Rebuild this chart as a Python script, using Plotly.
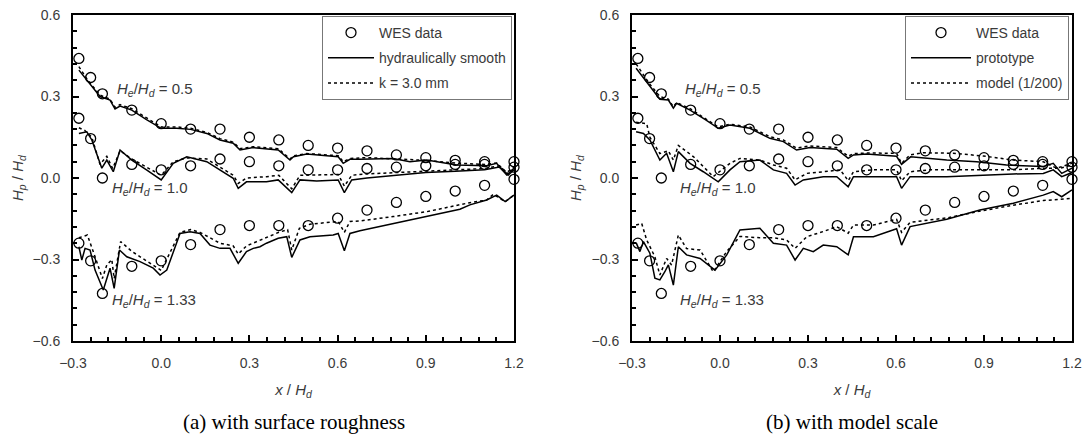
import plotly.graph_objects as go

# ---------------- data ----------------
wes_x = [-0.28, -0.24, -0.2, -0.1, 0.0, 0.1, 0.2, 0.3, 0.4, 0.5, 0.6, 0.7, 0.8, 0.9, 1.0, 1.1, 1.2]
wes_05 = [0.44, 0.37, 0.31, 0.25, 0.20, 0.18, 0.18, 0.15, 0.14, 0.12, 0.11, 0.10, 0.085, 0.075, 0.065, 0.06, 0.06]
wes_10 = [0.22, 0.145, 0.0, 0.05, 0.03, 0.045, 0.07, 0.06, 0.045, 0.03, 0.03, 0.035, 0.04, 0.045, 0.05, 0.05, 0.04]
wes_133 = [-0.24, -0.305, -0.425, -0.325, -0.305, -0.245, -0.19, -0.175, -0.175, -0.175, -0.148, -0.118,
           -0.09, -0.068, -0.048, -0.027, -0.005]

# (a) hydraulically smooth
a_s05_x = [-0.28, -0.24, -0.208, -0.174, -0.157, -0.14, -0.1, -0.05, 0.0, 0.053, 0.1, 0.155, 0.2, 0.245, 0.268,
           0.313, 0.398, 0.438, 0.45, 0.495, 0.602, 0.619, 0.642, 0.676, 0.789, 0.846, 0.903, 1.005, 1.107, 1.141,
           1.175, 1.2]
a_s05_y = [0.397, 0.345, 0.30, 0.287, 0.254, 0.265, 0.25, 0.215, 0.183, 0.183, 0.179, 0.164, 0.14, 0.128, 0.103,
           0.112, 0.103, 0.066, 0.078, 0.088, 0.078, 0.054, 0.069, 0.069, 0.072, 0.06, 0.066, 0.048, 0.045, 0.054,
           0.011, 0.036]
# (a) k = 3.0 mm
a_r05_x = [-0.28, -0.25, -0.208, -0.174, -0.157, -0.14, -0.1, -0.05, 0.0, 0.053, 0.1, 0.155, 0.2, 0.245, 0.268,
           0.313, 0.398, 0.438, 0.45, 0.495, 0.602, 0.619, 0.642, 0.7, 0.8, 0.9, 1.0, 1.1, 1.141, 1.175, 1.2]
a_r05_y = [0.41, 0.36, 0.305, 0.29, 0.26, 0.27, 0.255, 0.22, 0.188, 0.188, 0.183, 0.168, 0.145, 0.132, 0.108,
           0.115, 0.108, 0.07, 0.082, 0.09, 0.082, 0.06, 0.072, 0.075, 0.07, 0.065, 0.055, 0.05, 0.055, 0.02, 0.04]

a_s10_x = [-0.28, -0.253, -0.236, -0.202, -0.185, -0.163, -0.14, -0.1, -0.05, 0.0, 0.041, 0.087, 0.155, 0.2,
           0.245, 0.262, 0.29, 0.358, 0.398, 0.444, 0.472, 0.529, 0.602, 0.623, 0.648, 0.7, 0.8, 0.9, 1.0, 1.1,
           1.15, 1.18, 1.2]
a_s10_y = [0.164, 0.17, 0.14, 0.036, 0.066, 0.023, 0.103, 0.066, 0.03, -0.007, 0.054, 0.078, 0.06, 0.03, -0.001,
           -0.038, -0.014, -0.014, -0.007, -0.054, -0.007, -0.011, -0.007, -0.054, -0.007, 0.0, 0.01, 0.02, 0.025,
           0.03, 0.04, 0.01, 0.03]
a_r10_x = [-0.28, -0.26, -0.236, -0.208, -0.185, -0.165, -0.14, -0.1, -0.05, 0.0, 0.041, 0.087, 0.155, 0.2, 0.245,
           0.262, 0.29, 0.358, 0.4, 0.444, 0.472, 0.602, 0.623, 0.648, 0.7, 0.8, 0.9, 1.0, 1.1, 1.15, 1.18, 1.2]
a_r10_y = [0.185, 0.175, 0.15, 0.05, 0.08, 0.035, 0.1, 0.07, 0.04, 0.01, 0.06, 0.074, 0.07, 0.04, 0.01, -0.02,
           0.0, 0.005, 0.01, -0.04, 0.01, 0.013, -0.03, 0.01, 0.015, 0.02, 0.025, 0.03, 0.035, 0.045, 0.015, 0.035]

a_s133_x = [-0.28, -0.27, -0.259, -0.242, -0.225, -0.208, -0.197, -0.174, -0.16, -0.142, -0.117, -0.072, -0.027,
            -0.004, 0.019, 0.064, 0.098, 0.132, 0.166, 0.2, 0.234, 0.262, 0.29, 0.313, 0.336, 0.358, 0.398, 0.427,
            0.444, 0.472, 0.506, 0.585, 0.602, 0.623, 0.642, 0.676, 0.767, 0.846, 0.948, 1.016, 1.05, 1.107, 1.141,
            1.17, 1.2]
a_s133_y = [-0.253, -0.302, -0.259, -0.265, -0.339, -0.388, -0.412, -0.332, -0.406, -0.265, -0.29, -0.308, -0.332,
            -0.357, -0.339, -0.204, -0.198, -0.204, -0.247, -0.259, -0.259, -0.314, -0.271, -0.259, -0.253, -0.24,
            -0.222, -0.216, -0.292, -0.228, -0.216, -0.21, -0.204, -0.268, -0.204, -0.194, -0.173, -0.157, -0.132,
            -0.115, -0.099, -0.081, -0.063, -0.087, -0.063]
a_r133_x = [-0.28, -0.251, -0.225, -0.2, -0.185, -0.168, -0.16, -0.138, -0.1, -0.027, 0.0, 0.064, 0.1, 0.132, 0.18,
            0.2, 0.245, 0.262, 0.29, 0.358, 0.4, 0.43, 0.444, 0.47, 0.506, 0.602, 0.623, 0.642, 0.676, 0.789, 0.903,
            1.04, 1.107, 1.13, 1.17, 1.2]
a_r133_y = [-0.22, -0.21, -0.29, -0.37, -0.32, -0.30, -0.37, -0.234, -0.27, -0.32, -0.34, -0.2, -0.19, -0.2, -0.23,
            -0.24, -0.25, -0.28, -0.25, -0.22, -0.2, -0.19, -0.265, -0.185, -0.17, -0.16, -0.2, -0.16, -0.158,
            -0.142, -0.124, -0.093, -0.081, -0.06, -0.087, -0.063]

# (b) prototype
b_p05_x = [-0.286, -0.239, -0.205, -0.176, -0.159, -0.148, -0.102, -0.05, -0.006, 0.034, 0.102, 0.17, 0.216,
           0.261, 0.307, 0.398, 0.437, 0.455, 0.5, 0.602, 0.619, 0.65, 0.773, 0.875, 0.977, 1.102, 1.136, 1.165, 1.2]
b_p05_y = [0.404, 0.336, 0.29, 0.287, 0.257, 0.275, 0.25, 0.215, 0.183, 0.195, 0.183, 0.146, 0.134, 0.103, 0.112,
           0.106, 0.072, 0.085, 0.088, 0.08, 0.05, 0.078, 0.066, 0.06, 0.048, 0.042, 0.054, 0.017, 0.036]
# (b) model (1/200)
b_m05_x = [-0.286, -0.239, -0.205, -0.176, -0.159, -0.148, -0.102, -0.05, -0.006, 0.034, 0.102, 0.17, 0.216,
           0.261, 0.307, 0.398, 0.437, 0.455, 0.5, 0.602, 0.619, 0.648, 0.693, 0.795, 0.898, 1.0, 1.102, 1.148, 1.2]
b_m05_y = [0.42, 0.345, 0.3, 0.29, 0.262, 0.278, 0.255, 0.22, 0.188, 0.198, 0.188, 0.152, 0.14, 0.11, 0.118,
           0.112, 0.08, 0.09, 0.092, 0.091, 0.054, 0.085, 0.093, 0.091, 0.081, 0.066, 0.06, 0.036, 0.054]

b_p10_x = [-0.286, -0.261, -0.239, -0.205, -0.182, -0.159, -0.142, -0.102, -0.057, -0.006, 0.034, 0.068, 0.136,
           0.182, 0.227, 0.256, 0.284, 0.352, 0.398, 0.437, 0.455, 0.523, 0.602, 0.619, 0.648, 0.773, 0.898, 1.0,
           1.102, 1.136, 1.165, 1.2]
b_p10_y = [0.17, 0.164, 0.14, 0.066, 0.091, 0.023, 0.097, 0.054, 0.023, -0.014, 0.03, 0.06, 0.066, 0.03, 0.017,
           -0.026, -0.007, 0.005, 0.005, -0.032, 0.005, 0.005, 0.005, -0.038, 0.005, 0.005, 0.011, 0.015, 0.017,
           0.03, 0.005, 0.02]
b_m10_x = [-0.286, -0.25, -0.239, -0.205, -0.176, -0.159, -0.142, -0.09, -0.023, 0.034, 0.068, 0.136, 0.182,
           0.227, 0.256, 0.296, 0.352, 0.41, 0.437, 0.455, 0.523, 0.602, 0.619, 0.648, 0.716, 0.886, 1.0, 1.102,
           1.16, 1.2]
b_m10_y = [0.205, 0.2, 0.15, 0.09, 0.1, 0.066, 0.12, 0.078, 0.005, 0.054, 0.072, 0.066, 0.048, 0.036, -0.007,
           0.017, 0.023, 0.03, -0.01, 0.023, 0.03, 0.03, -0.01, 0.023, 0.03, 0.03, 0.03, 0.036, 0.036, 0.048]

b_p133_x = [-0.286, -0.273, -0.261, -0.239, -0.222, -0.205, -0.188, -0.176, -0.159, -0.142, -0.114, -0.068,
            -0.017, 0.023, 0.068, 0.136, 0.182, 0.227, 0.256, 0.284, 0.318, 0.352, 0.398, 0.437, 0.455, 0.523,
            0.602, 0.619, 0.648, 0.773, 0.886, 1.0, 1.102, 1.136, 1.165, 1.2]
b_p133_y = [-0.238, -0.271, -0.234, -0.277, -0.369, -0.375, -0.345, -0.32, -0.394, -0.253, -0.283, -0.296, -0.339,
            -0.283, -0.191, -0.185, -0.24, -0.247, -0.302, -0.259, -0.271, -0.247, -0.253, -0.283, -0.216, -0.216,
            -0.187, -0.247, -0.179, -0.152, -0.118, -0.093, -0.063, -0.05, -0.069, -0.044]
b_m133_x = [-0.286, -0.267, -0.25, -0.222, -0.205, -0.182, -0.165, -0.142, -0.114, -0.068, -0.023, 0.023, 0.068,
            0.136, 0.182, 0.227, 0.256, 0.296, 0.352, 0.398, 0.437, 0.455, 0.523, 0.602, 0.619, 0.648, 0.773,
            0.886, 1.0, 1.102, 1.2]
b_m133_y = [-0.173, -0.167, -0.228, -0.29, -0.357, -0.296, -0.32, -0.21, -0.26, -0.265, -0.345, -0.27, -0.215,
            -0.22, -0.22, -0.228, -0.259, -0.216, -0.197, -0.179, -0.203, -0.173, -0.173, -0.152, -0.2, -0.163,
            -0.147, -0.122, -0.1, -0.083, -0.075]

x_ticks = [-0.3, 0.0, 0.3, 0.6, 0.9, 1.2]
y_ticks = [-0.6, -0.3, 0.0, 0.3, 0.6]
captions = ["(a) with surface roughness", "(b) with model scale"]
legend_a = ["WES data", "hydraulically smooth", "k = 3.0 mm"]
legend_b = ["WES data", "prototype", "model (1/200)"]
ratio_labels = ["0.5", "1.0", "1.33"]

# ---------------- figure ----------------
W, H = 1083, 441
FONT = "Liberation Sans, Arial, sans-serif"
TXT = "#3a3a3a"

fig = go.Figure()

def add_panel(xa, ya, leg, names, s_sets, d_sets):
    marker = dict(symbol="circle-open", size=10, color="black", line=dict(width=1.3, color="black"))
    for i, wy in enumerate([wes_05, wes_10, wes_133]):
        fig.add_trace(go.Scatter(x=wes_x, y=wy, mode="markers", marker=marker, xaxis=xa, yaxis=ya,
                                 name=names[0], legend=leg, legendgroup=leg + "w", showlegend=(i == 0),
                                 cliponaxis=False))
    for i, (sx, sy) in enumerate(s_sets):
        fig.add_trace(go.Scatter(x=sx, y=sy, mode="lines", line=dict(color="black", width=1.5),
                                 xaxis=xa, yaxis=ya, name=names[1], legend=leg, legendgroup=leg + "s",
                                 showlegend=(i == 0)))
    for i, (dx, dy) in enumerate(d_sets):
        fig.add_trace(go.Scatter(x=dx, y=dy, mode="lines", line=dict(color="black", width=1.5, dash="dot"),
                                 xaxis=xa, yaxis=ya, name=names[2], legend=leg, legendgroup=leg + "d",
                                 showlegend=(i == 0)))

add_panel("x", "y", "legend", legend_a,
          [(a_s05_x, a_s05_y), (a_s10_x, a_s10_y), (a_s133_x, a_s133_y)],
          [(a_r05_x, a_r05_y), (a_r10_x, a_r10_y), (a_r133_x, a_r133_y)])
add_panel("x2", "y2", "legend2", legend_b,
          [(b_p05_x, b_p05_y), (b_p10_x, b_p10_y), (b_p133_x, b_p133_y)],
          [(b_m05_x, b_m05_y), (b_m10_x, b_m10_y), (b_m133_x, b_m133_y)])

ydom = [(H - 341) / H, (H - 15) / H]
xdom1 = [73 / W, 514 / W]
xdom2 = [632 / W, 1072 / W]

def xaxis(dom, anchor):
    return dict(domain=dom, anchor=anchor, range=[-0.3, 1.2], tickmode="array", tickvals=x_ticks,
                ticktext=[f"{v:.1f}".replace("-", "\u2212") for v in x_ticks], automargin=False,
                ticks="inside", ticklen=6, tickwidth=1.5, tickcolor="black",
                minor=dict(dtick=0.06, tick0=0, ticks="inside", ticklen=4, tickwidth=1.5, tickcolor="black"),
                showline=True, linewidth=2, linecolor="black", mirror=True, showgrid=False, zeroline=False,
                tickfont=dict(family=FONT, size=14, color=TXT), ticklabelstandoff=8,
                title=dict(text="<i>x</i> / <i>H<sub>d</sub></i>", font=dict(family=FONT, size=15, color=TXT)))

def yaxis(anchor):
    return dict(domain=ydom, anchor=anchor, range=[-0.6, 0.6], tickmode="array", tickvals=y_ticks,
                ticktext=[f"{v:.1f}".replace("-", "\u2212") for v in y_ticks], automargin=False,
                ticks="inside", ticklen=6, tickwidth=1.5, tickcolor="black",
                minor=dict(dtick=0.06, tick0=0, ticks="inside", ticklen=4, tickwidth=1.5, tickcolor="black"),
                showline=True, linewidth=2, linecolor="black", mirror=True, showgrid=False, zeroline=False,
                tickfont=dict(family=FONT, size=14, color=TXT), ticklabelstandoff=8)

legend_common = dict(bgcolor="white", bordercolor="#777777", borderwidth=1,
                     font=dict(family=FONT, size=14, color=TXT), yanchor="top", xanchor="right",
                     tracegroupgap=4, itemclick=False)

fig.update_layout(
    width=W, height=H, autosize=False, margin=dict(l=0, r=0, t=0, b=0, autoexpand=False),
    paper_bgcolor="white", plot_bgcolor="white",
    xaxis=xaxis(xdom1, "y"), yaxis=yaxis("x"),
    xaxis2=xaxis(xdom2, "y2"), yaxis2=yaxis("x2"),
    legend=dict(x=512 / W, y=(H - 16) / H, itemwidth=46, **legend_common),
    legend2=dict(x=1069 / W, y=(H - 16) / H, itemwidth=60, **legend_common),
)

# y-axis titles (placed as rotated annotations for exact position)
for xpx in [18, 576]:
    fig.add_annotation(x=xpx / W, y=(H - 178) / H, xref="paper", yref="paper",
                       text="<i>H<sub>p</sub></i> / <i>H<sub>d</sub></i>", textangle=-90, showarrow=False,
                       xanchor="center", yanchor="middle", font=dict(family=FONT, size=15, color=TXT))

def ratio_text(v):
    return f"<i>H<sub>e</sub></i>/<i>H<sub>d</sub></i> = {v}"

label_pos_a = [(-0.157, 0.325), (-0.174, -0.04), (-0.174, -0.45)]
label_pos_b = [(-0.125, 0.325), (-0.143, -0.04), (-0.143, -0.45)]
for (xr, yr), pos in [(("x", "y"), label_pos_a), (("x2", "y2"), label_pos_b)]:
    for lab, (px, py) in zip(ratio_labels, pos):
        fig.add_annotation(x=px, y=py, xref=xr, yref=yr, text=ratio_text(lab), showarrow=False,
                           xanchor="left", yanchor="middle", font=dict(family=FONT, size=15, color=TXT))

for cap, dom in zip(captions, [xdom1, xdom2]):
    fig.add_annotation(x=(dom[0] + dom[1]) / 2, y=(H - 422) / H, xref="paper", yref="paper", text=cap,
                       showarrow=False, xanchor="center", yanchor="middle",
                       font=dict(family="Liberation Serif, Times New Roman, serif", size=21, color="black"))

fig.write_html("out.html")
